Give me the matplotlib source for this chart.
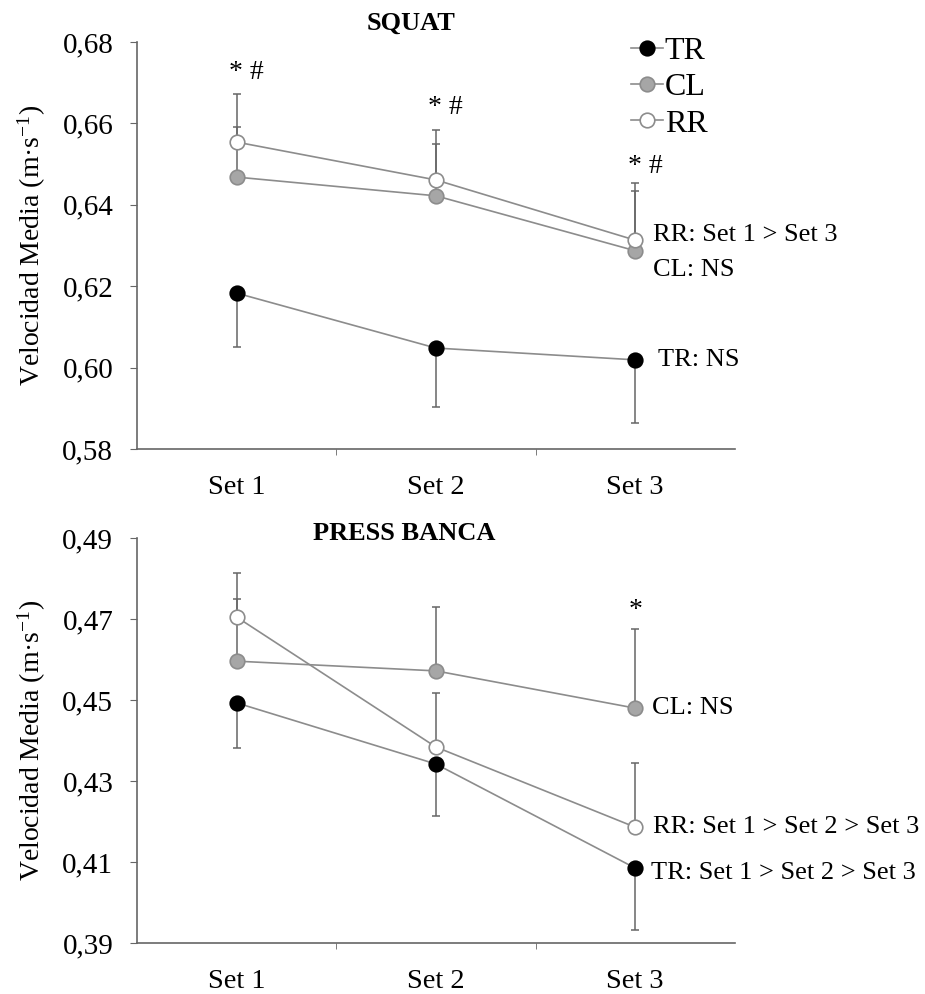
import matplotlib
matplotlib.use("Agg")
import matplotlib.pyplot as plt
from matplotlib.lines import Line2D

plt.rcParams['font.family'] = ['Liberation Serif', 'DejaVu Serif']
plt.rcParams['mathtext.default'] = 'regular'

sets = ["Set 1", "Set 2", "Set 3"]
groups = ["TR", "CL", "RR"]

# squat: mean velocity per set and one-sided SD
squat_tr = [0.6183, 0.6048, 0.6019]
squat_cl = [0.6468, 0.6422, 0.6287]
squat_rr = [0.6554, 0.6461, 0.6313]
squat_tr_sd = [0.0133, 0.0145, 0.0155]
squat_cl_sd = [0.0122, 0.0128, 0.0146]
squat_rr_sd = [0.0118, 0.0123, 0.0141]
squat_ticks = [0.58, 0.60, 0.62, 0.64, 0.66, 0.68]
squat_ticklabels = ["0,58", "0,60", "0,62", "0,64", "0,66", "0,68"]

# press banca
bench_tr = [0.4493, 0.4342, 0.4085]
bench_cl = [0.4596, 0.4572, 0.4480]
bench_rr = [0.4705, 0.4384, 0.4186]
bench_tr_sd = [0.0112, 0.0128, 0.0153]
bench_cl_sd = [0.0153, 0.0158, 0.0195]
bench_rr_sd = [0.0108, 0.0133, 0.0158]
bench_ticks = [0.39, 0.41, 0.43, 0.45, 0.47, 0.49]
bench_ticklabels = ["0,39", "0,41", "0,43", "0,45", "0,47", "0,49"]

LINE = '#8c8c8c'
styles = {
    "TR": dict(mfc='black', mec='black'),
    "CL": dict(mfc='#a6a6a6', mec='#8c8c8c'),
    "RR": dict(mfc='white', mec='#8c8c8c'),
}
x = [0.5, 1.5, 2.5]


def draw_group(ax, name, vals, sd, up=True):
    zeros = [0] * len(sd)
    yerr = [zeros, sd] if up else [sd, zeros]
    ax.errorbar(x, vals, yerr=yerr, fmt='none', ecolor='#666666',
                elinewidth=1.1, capsize=3, capthick=1.1, zorder=2)
    ax.plot(x, vals, '-o', color=LINE, lw=1.2, ms=10.5, mew=1.2,
            zorder=3, **styles[name])


def style_axes(ax, ticks, ticklabels):
    ax.set_xlim(0, 3)
    ax.set_ylim(ticks[0], ticks[-1])
    ax.set_yticks(ticks)
    ax.set_yticklabels(ticklabels, fontsize=21)
    ax.set_xticks(x)
    ax.set_xticklabels(sets, fontsize=20.5)
    ax.set_xticks([1, 2], minor=True)
    ax.tick_params(axis='x', which='major', length=0, pad=19)
    ax.tick_params(axis='x', which='minor', length=4, color='#666666')
    ax.tick_params(axis='y', length=5, color='#666666', pad=12)
    for s in ['top', 'right']:
        ax.spines[s].set_visible(False)
    for s in ['left', 'bottom']:
        ax.spines[s].set_color('#666666')
        ax.spines[s].set_linewidth(1.2)
    ax.set_ylabel('Velocidad Media (m·s$^{-1}$)', fontsize=20, labelpad=10)


fig = plt.figure(figsize=(9.25, 9.94), dpi=100)
ax1 = fig.add_axes([0.148, 0.5483, 0.6465, 0.4095])
ax2 = fig.add_axes([0.148, 0.0513, 0.6465, 0.4074])

# SQUAT
draw_group(ax1, "TR", squat_tr, squat_tr_sd, up=False)
draw_group(ax1, "CL", squat_cl, squat_cl_sd)
draw_group(ax1, "RR", squat_rr, squat_rr_sd)
style_axes(ax1, squat_ticks, squat_ticklabels)
for xi, yi in zip(x, [0.6724, 0.6638, 0.6493]):
    ax1.text(xi + 0.05, yi, '* #', fontsize=20, ha='center', va='center')
ax1.text(2.59, 0.6325, 'RR: Set 1 > Set 3', fontsize=19, va='center')
ax1.text(2.59, 0.6240, 'CL: NS', fontsize=19, va='center')
ax1.text(2.615, 0.6019, 'TR: NS', fontsize=19, va='center')
fig.text(411 / 925, 1 - 23 / 994, 'SQUAT', fontsize=19, fontweight='bold',
         ha='center', va='center')

handles = [Line2D([], [], color=LINE, marker='o', ms=10.5, mew=1.2, lw=1.2,
                  **styles[g]) for g in groups]
ax1.legend(handles, groups, loc='upper left', bbox_to_anchor=(0.805, 1.045),
           frameon=False, fontsize=23, handlelength=1.0, handletextpad=0.05,
           labelspacing=0.22, borderaxespad=0)

# PRESS BANCA
draw_group(ax2, "TR", bench_tr, bench_tr_sd, up=False)
draw_group(ax2, "CL", bench_cl, bench_cl_sd)
draw_group(ax2, "RR", bench_rr, bench_rr_sd)
style_axes(ax2, bench_ticks, bench_ticklabels)
ax2.text(2.5, 0.4722, '*', fontsize=20, ha='center', va='center')
ax2.text(2.585, 0.4480, 'CL: NS', fontsize=19, va='center')
ax2.text(2.59, 0.4186, 'RR: Set 1 > Set 2 > Set 3', fontsize=19, va='center')
ax2.text(2.58, 0.4072, 'TR: Set 1 > Set 2 > Set 3', fontsize=19, va='center')
fig.text(404 / 925, 1 - 534 / 994, 'PRESS BANCA', fontsize=19,
         fontweight='bold', ha='center', va='center')

fig.savefig('out.png', dpi=100)
